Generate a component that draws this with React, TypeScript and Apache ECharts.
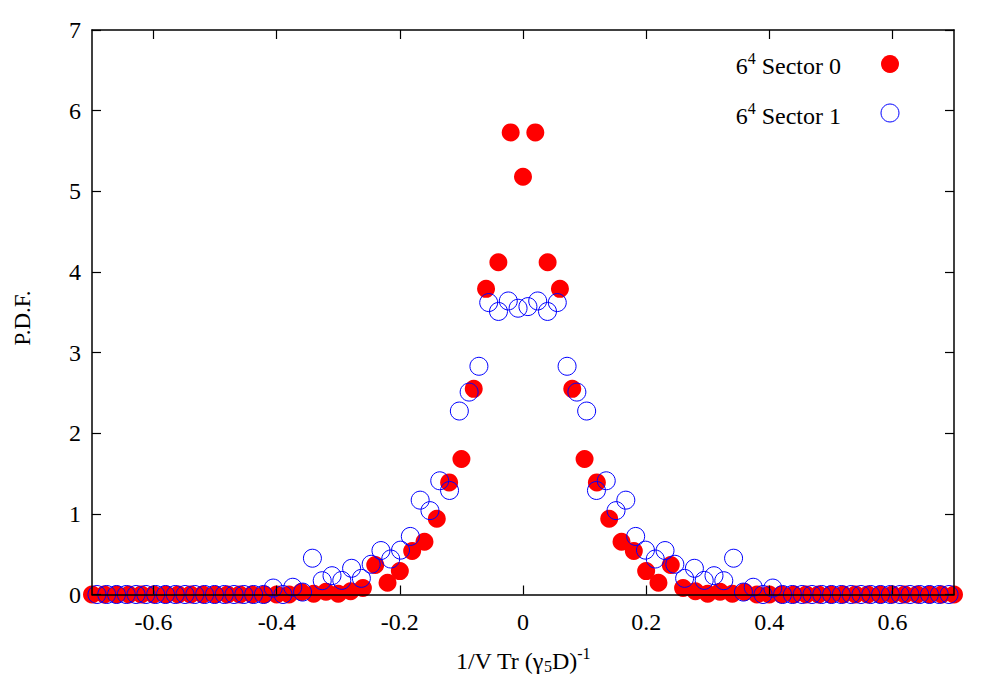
import React, { useEffect, useRef } from "react";
import * as echarts from "echarts";

// Sector 0 (filled red) bin centres and P.D.F. values
const sector0X = [
  -0.70, -0.68, -0.66, -0.64, -0.62, -0.60, -0.58, -0.56, -0.54, -0.52,
  -0.50, -0.48, -0.46, -0.44, -0.42, -0.40, -0.38, -0.36, -0.34, -0.32,
  -0.30, -0.28, -0.26, -0.24, -0.22, -0.20, -0.18, -0.16, -0.14, -0.12,
  -0.10, -0.08, -0.06, -0.04, -0.02, 0.00, 0.02, 0.04, 0.06, 0.08,
  0.10, 0.12, 0.14, 0.16, 0.18, 0.20, 0.22, 0.24, 0.26, 0.28,
  0.30, 0.32, 0.34, 0.36, 0.38, 0.40, 0.42, 0.44, 0.46, 0.48,
  0.50, 0.52, 0.54, 0.56, 0.58, 0.60, 0.62, 0.64, 0.66, 0.68, 0.70,
];
const sector0Y = [
  0, 0, 0, 0, 0, 0, 0, 0, 0, 0,
  0, 0, 0, 0, 0, 0, 0, 0.03, 0.01, 0.035,
  0.01, 0.04, 0.08, 0.365, 0.146, 0.29, 0.54, 0.655, 0.94, 1.39,
  1.68, 2.55, 3.79, 4.12, 5.73, 5.18, 5.73, 4.12, 3.79, 2.55,
  1.68, 1.39, 0.94, 0.655, 0.54, 0.29, 0.146, 0.365, 0.08, 0.04,
  0.01, 0.035, 0.01, 0.03, 0, 0, 0, 0, 0, 0,
  0, 0, 0, 0, 0, 0, 0, 0, 0, 0, 0,
];

// Sector 1 (open blue) bin centres and P.D.F. values
const sector1X = [
  -0.6920, -0.6761, -0.6602, -0.6443, -0.6284, -0.6125, -0.5966, -0.5807,
  -0.5648, -0.5489, -0.5330, -0.5170, -0.5011, -0.4852, -0.4693, -0.4534,
  -0.4375, -0.4216, -0.4057, -0.3898, -0.3739, -0.3580, -0.3420, -0.3261,
  -0.3102, -0.2943, -0.2784, -0.2625, -0.2466, -0.2307, -0.2148, -0.1989,
  -0.1830, -0.1670, -0.1511, -0.1352, -0.1193, -0.1034, -0.0875, -0.0716,
  -0.0557, -0.0398, -0.0239, -0.0080,
  0.0080, 0.0239, 0.0398, 0.0557, 0.0716, 0.0875, 0.1034, 0.1193,
  0.1352, 0.1511, 0.1670, 0.1830, 0.1989, 0.2148, 0.2307, 0.2466,
  0.2625, 0.2784, 0.2943, 0.3102, 0.3261, 0.3420, 0.3580, 0.3739,
  0.3898, 0.4057, 0.4216, 0.4375, 0.4534, 0.4693, 0.4852, 0.5011,
  0.5170, 0.5330, 0.5489, 0.5648, 0.5807, 0.5966, 0.6125, 0.6284,
  0.6443, 0.6602, 0.6761, 0.6920,
];
const sector1Y = [
  0, 0, 0, 0, 0, 0, 0, 0,
  0, 0, 0, 0, 0, 0, 0, 0,
  0, 0, 0.08, 0, 0.09, 0.03, 0.45, 0.171,
  0.233, 0.175, 0.325, 0.2, 0.375, 0.545, 0.44, 0.55,
  0.72, 1.17, 1.04, 1.41, 1.29, 2.275, 2.51, 2.83,
  3.62, 3.51, 3.64, 3.55,
  3.57, 3.64, 3.51, 3.62, 2.83, 2.51, 2.275, 1.29,
  1.41, 1.04, 1.17, 0.72, 0.55, 0.44, 0.545, 0.375,
  0.2, 0.325, 0.175, 0.233, 0.171, 0.45, 0.03, 0.09,
  0, 0.08, 0, 0, 0, 0, 0, 0,
  0, 0, 0, 0, 0, 0, 0, 0,
  0, 0, 0, 0,
];

const xTickValues = [-0.6, -0.4, -0.2, 0, 0.2, 0.4, 0.6];
const xTickLabels = ["-0.6", "-0.4", "-0.2", "0", "0.2", "0.4", "0.6"];

const legendNames = ["Sector 0", "Sector 1"];
const FONT = "'Liberation Serif', 'Times New Roman', serif";
const RED = "#ff0000";
const BLUE = "#0000ff";

export default function App() {
  const ref = useRef<HTMLDivElement>(null);

  useEffect(() => {
    if (!ref.current) return;
    const chart = echarts.init(ref.current, null, { renderer: "svg" });

    const d0 = sector0X.map((x, i) => [x, sector0Y[i]]);
    const d1 = sector1X.map((x, i) => [x, sector1Y[i]]);

    const tickStyle = { lineStyle: { color: "#000", width: 1.2 } };
    const axisLine = { show: true, onZero: false, lineStyle: { color: "#000", width: 1.5 } };

    const rich = {
      b: { fontFamily: FONT, fontSize: 24, color: "#000" },
      sup: { fontFamily: FONT, fontSize: 16, color: "#000", padding: [0, 0, 16, 0] },
      sub: { fontFamily: FONT, fontSize: 16, color: "#000", padding: [10, 0, 0, 0] },
    };

    chart.setOption({
      animation: false,
      backgroundColor: "#fff",
      grid: { left: 92, right: 46, top: 30, bottom: 105.5, containLabel: false },
      xAxis: [
        {
          type: "value",
          min: -0.7,
          max: 0.7,
          position: "bottom",
          z: 10,
          axisLine,
          axisTick: { show: true, inside: true, length: 9, customValues: xTickValues, ...tickStyle },
          axisLabel: {
            show: true,
            customValues: xTickValues,
            formatter: (v: number) => {
              const idx = xTickValues.findIndex((t) => Math.abs(t - v) < 1e-9);
              return idx >= 0 ? xTickLabels[idx] : "";
            },
            fontFamily: FONT,
            fontSize: 24,
            color: "#000",
            margin: 15,
          },
          splitLine: { show: false },
        },
        {
          type: "value",
          min: -0.7,
          max: 0.7,
          position: "top",
          z: 10,
          axisLine,
          axisTick: { show: true, inside: true, length: 9, customValues: xTickValues, ...tickStyle },
          axisLabel: { show: false },
          splitLine: { show: false },
        },
      ],
      yAxis: [
        {
          type: "value",
          min: 0,
          max: 7,
          interval: 1,
          position: "left",
          z: 10,
          axisLine,
          axisTick: { show: true, inside: true, length: 9, ...tickStyle },
          axisLabel: {
            show: true,
            fontFamily: FONT,
            fontSize: 24,
            color: "#000",
            margin: 11,
          },
          splitLine: { show: false },
        },
        {
          type: "value",
          min: 0,
          max: 7,
          interval: 1,
          position: "right",
          z: 10,
          axisLine,
          axisTick: { show: true, inside: true, length: 9, ...tickStyle },
          axisLabel: { show: false },
          splitLine: { show: false },
        },
      ],
      series: [
        {
          name: legendNames[0],
          type: "scatter",
          xAxisIndex: 0,
          yAxisIndex: 0,
          clip: false,
          symbol: "circle",
          symbolSize: 18,
          itemStyle: { color: RED, opacity: 1 },
          data: d0,
          z: 2,
        },
        {
          name: legendNames[1],
          type: "scatter",
          xAxisIndex: 0,
          yAxisIndex: 0,
          clip: false,
          symbol: "circle",
          symbolSize: 18,
          itemStyle: { color: "rgba(0,0,0,0)", borderColor: BLUE, borderWidth: 1, opacity: 1 },
          data: d1,
          z: 3,
        },
      ],
      graphic: [
        {
          type: "text",
          x: 841,
          y: 66,
          z: 20,
          style: {
            text: "{b|6}{sup|4}{b| " + legendNames[0] + "}",
            rich,
            align: "right",
            verticalAlign: "middle",
          },
        },
        {
          type: "circle",
          z: 20,
          shape: { cx: 890, cy: 64, r: 9 },
          style: { fill: RED },
        },
        {
          type: "text",
          x: 841,
          y: 116,
          z: 20,
          style: {
            text: "{b|6}{sup|4}{b| " + legendNames[1] + "}",
            rich,
            align: "right",
            verticalAlign: "middle",
          },
        },
        {
          type: "circle",
          z: 20,
          shape: { cx: 890, cy: 113, r: 9 },
          style: { fill: "none", stroke: BLUE, lineWidth: 1 },
        },
        {
          type: "text",
          x: 523,
          y: 661,
          z: 20,
          style: {
            text: "{b|1/V Tr (γ}{sub|5}{b|D)}{sup|-1}",
            rich,
            align: "center",
            verticalAlign: "middle",
          },
        },
        {
          type: "text",
          x: 22,
          y: 318,
          rotation: Math.PI / 2,
          z: 20,
          style: {
            text: "P.D.F.",
            fontFamily: FONT,
            fontSize: 23,
            fill: "#000",
            align: "center",
            verticalAlign: "middle",
          },
        },
      ],
    });

    return () => chart.dispose();
  }, []);

  return (
    <div
      ref={ref}
      style={{ position: "fixed", left: 0, top: 0, width: 1000, height: 700, background: "#fff" }}
    />
  );
}
